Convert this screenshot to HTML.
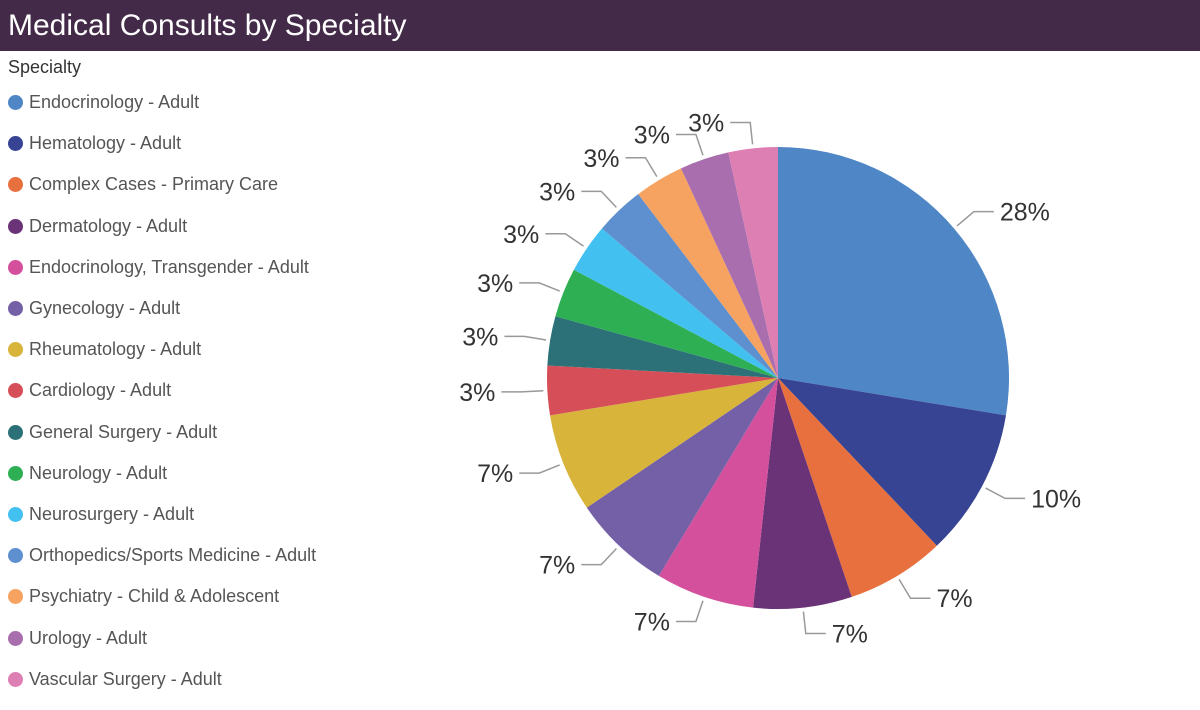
<!DOCTYPE html>
<html><head><meta charset="utf-8"><style>
body{margin:0;width:1200px;height:710px;background:#fff;font-family:"Liberation Sans",sans-serif;overflow:hidden;position:relative}
#title{position:absolute;left:0;top:0;width:1200px;height:51px;background:#432a48;color:#fff;font-size:30px;line-height:51px;padding-left:8px;box-sizing:border-box}
#legtitle{position:absolute;left:8px;top:57px;font-size:18px;color:#333}
.li{position:absolute;left:8px;font-size:18px;color:#555;height:22px;line-height:22px;white-space:nowrap}
.dot{display:inline-block;width:15px;height:15px;border-radius:50%;vertical-align:-2px;margin-right:6px}
svg{position:absolute;left:0;top:0}
</style></head><body>
<div id="title">Medical Consults by Specialty</div>
<div id="legtitle">Specialty</div>
<div id="legend"></div>
<svg id="chart" width="1200" height="710"></svg>
<script>
const categories=["Endocrinology - Adult","Hematology - Adult","Complex Cases - Primary Care","Dermatology - Adult","Endocrinology, Transgender - Adult","Gynecology - Adult","Rheumatology - Adult","Cardiology - Adult","General Surgery - Adult","Neurology - Adult","Neurosurgery - Adult","Orthopedics/Sports Medicine - Adult","Psychiatry - Child & Adolescent","Urology - Adult","Vascular Surgery - Adult"];
const values=[8,3,2,2,2,2,2,1,1,1,1,1,1,1,1];
const colors=["#4f86c6","#374393","#e8703f","#6b3377","#d4509c","#7460a7","#d8b43a","#d64f58","#2b7177","#2eaf53","#42c0ef","#5e8fce","#f6a261","#a86eae","#de7fb4"];
const NS="http://www.w3.org/2000/svg";
const svg=document.getElementById('chart');
const leg=document.getElementById('legend');
categories.forEach((c,i)=>{
  const d=document.createElement('div');d.className='li';d.style.top=(91+i*41.2)+'px';
  d.innerHTML='<span class="dot" style="background:'+colors[i]+'"></span>'+c.replace('&','&amp;');
  
  
  leg.appendChild(d);
});
const cx=778,cy=378,r=231;
const total=values.reduce((a,b)=>a+b,0);
let a0=0;
function pt(a,rr){return [cx+rr*Math.sin(a),cy-rr*Math.cos(a)];}
values.forEach((v,i)=>{
  const a1=a0+v/total*2*Math.PI;
  const p0=pt(a0,r),p1=pt(a1,r);
  const large=(a1-a0)>Math.PI?1:0;
  const path=document.createElementNS(NS,'path');
  path.setAttribute('d',`M${cx},${cy}L${p0[0]},${p0[1]}A${r},${r} 0 ${large} 1 ${p1[0]},${p1[1]}Z`);
  path.setAttribute('fill',colors[i]);
  
  
  svg.appendChild(path);
  const am=(a0+a1)/2;
  const q1=pt(am,r+4),q2=pt(am,r+26);
  const right=Math.sin(am)>=0;
  const q3=[q2[0]+(right?20:-20),q2[1]];
  const line=document.createElementNS(NS,'polyline');
  line.setAttribute('points',`${q1[0]},${q1[1]} ${q2[0]},${q2[1]} ${q3[0]},${q3[1]}`);
  line.setAttribute('fill','none');line.setAttribute('stroke','#999');line.setAttribute('stroke-width','1.5');
  
  
  svg.appendChild(line);
  const t=document.createElementNS(NS,'text');
  t.setAttribute('x',q3[0]+(right?6:-6));t.setAttribute('y',q3[1]+9);
  t.setAttribute('text-anchor',right?'start':'end');
  t.setAttribute('font-size','25');t.setAttribute('fill','#333');
  t.setAttribute('font-family','Liberation Sans, sans-serif');
  t.textContent=Math.round(v/total*100)+'%';
  
  
  svg.appendChild(t);
  a0=a1;
});
</script>
</body></html>
